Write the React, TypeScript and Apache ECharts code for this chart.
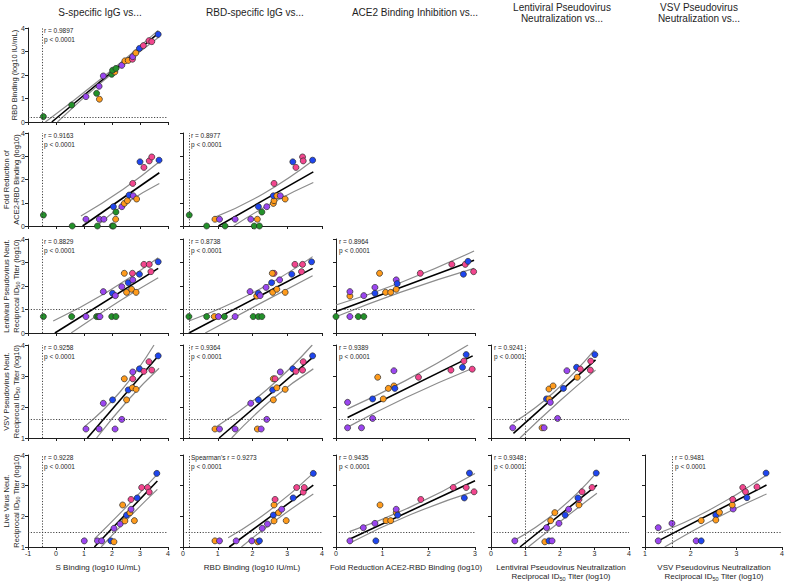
import { useEffect, useRef } from 'react';
import * as echarts from 'echarts';

const FONT = '"Liberation Sans", Arial, Helvetica, sans-serif';
const INK = '#1e1e1e';
// group index: 0 green, 1 purple, 2 orange, 3 pink, 4 blue
const GROUP_COLORS = ['#23912a', '#9b46f0', '#ff9b1c', '#f2468e', '#1f46ef'];

const headers = ['S-specific IgG vs...', 'RBD-specific IgG vs...', 'ACE2 Binding Inhibition vs...', 'Lentiviral Pseudovirus\nNeutralization vs...', 'VSV Pseudovirus\nNeutralization vs...'];
const rowTitles = ['RBD Binding (log10 IU/mL)', 'Fold Reduction of\nACE2-RBD Binding (log10)', 'Lentiviral Pseudovirus Neut.\nReciprocal ID{sub|50} Titer (log10)', 'VSV Pseudovirus Neut.\nReciprocal ID{sub|50} Titer (log10)', 'Live Virus Neut.\nReciprocal ID{sub|50} Titer (log10)'];
const colTitles = ['S Binding (log10 IU/mL)', 'RBD Binding (log10 IU/mL)', 'Fold Reduction ACE2-RBD Binding (log10)', 'Lentiviral Pseudovirus Neutralization\nReciprocal ID{sub|50} Titer (log10)', 'VSV Pseudovirus Neutralization\nReciprocal ID{sub|50} Titer (log10)'];
const xRanges = [[-1, 4], [0, 4], [0, 3], [0, 4], [1, 4]];
const yRanges = [[0, 4], [0, 4], [0, 4], [1, 4], [1, 4]];
const colLOD = [-0.5, 0.17, null, 1.0, 1.6];
const rowLOD = [0.2, null, 1.0, 1.6, 1.48];

// points [x, y, group]
const s_rbd = [[-0.45,0.23,0],[0.56,0.72,0],[1.07,1.08,1],[1.45,1.22,0],[1.55,0.97,2],[1.54,1.52,1],[1.69,1.96,1],[1.99,2.03,0],[2.1,2.13,2],[2.02,2.2,0],[2.14,2.28,0],[2.35,2.41,1],[2.46,2.6,2],[2.58,2.62,2],[2.73,2.67,3],[2.74,2.78,1],[2.85,2.94,2],[2.98,3.13,4],[3.12,3.25,3],[3.32,3.46,3],[3.42,3.42,3],[3.65,3.73,4]];
const s_ace2 = [[-0.45,0.47,0],[0.58,0,0],[1.07,0.29,1],[1.48,0,0],[1.55,0.29,1],[1.71,0.29,1],[2.01,0,0],[2.05,0,0],[2.05,0.83,4],[2.14,0.6,0],[2.13,0.29,2],[2.35,0.83,1],[2.44,0.97,2],[2.55,1.09,2],[2.61,1.33,4],[2.76,1.3,1],[2.88,1.16,2],[2.74,1.83,3],[3.0,2.76,4],[3.14,2.52,3],[3.33,2.8,3],[3.42,2.97,3],[3.68,2.83,4]];
const rbd_ace2 = [[0.18,0.47,0],[0.68,0,0],[0.92,0.29,2],[1.05,0.29,1],[1.21,0,0],[1.5,0.29,1],[1.95,0.29,1],[2.14,0.29,2],[2.05,0,0],[2.2,0,0],[2.17,0.83,4],[2.27,0.6,0],[2.41,0.83,1],[2.6,0.97,2],[2.62,1.09,2],[2.6,1.3,4],[2.62,1.83,3],[2.7,1.3,2],[2.8,1.3,1],[2.94,1.16,2],[3.16,2.76,4],[3.25,2.52,3],[3.44,2.97,3],[3.46,2.8,3],[3.73,2.83,4]];
const s_lenti = [[-0.45,0.7,0],[0.56,0.7,0],[1.07,0.7,1],[1.45,0.7,0],[1.52,0.7,0],[1.57,0.7,1],[1.99,0.7,0],[2.14,0.7,0],[1.69,1.76,1],[2.02,1.69,4],[2.12,1.59,1],[2.35,1.97,1],[2.44,2.54,2],[2.52,1.73,2],[2.58,2.14,4],[2.7,1.86,2],[2.74,2.26,1],[2.73,2.54,3],[2.86,1.73,2],[2.98,2.5,4],[3.14,2.92,3],[3.33,2.92,3],[3.39,2.61,3],[3.65,3.03,4]];
const rbd_lenti = [[0.17,0.7,0],[0.68,0.7,0],[0.9,0.7,2],[1.02,0.7,1],[1.19,0.7,0],[1.5,0.7,1],[2.02,0.7,0],[2.17,0.7,0],[2.27,0.7,0],[1.93,1.76,1],[2.12,1.57,2],[2.17,1.69,4],[2.22,1.59,1],[2.39,1.94,1],[2.55,2.14,4],[2.62,2.54,3],[2.57,2.54,2],[2.58,1.73,2],[2.7,1.86,2],[2.78,2.26,1],[2.94,1.73,2],[3.13,2.5,4],[3.22,2.92,3],[3.41,2.61,3],[3.44,2.92,3],[3.7,3.03,4]];
const ace2_lenti = [[0,0.7,0],[0.3,1.57,2],[0.3,1.76,1],[0.3,0.7,1],[0.48,0.7,0],[0.6,1.59,1],[0.6,0.7,0],[0.84,1.94,1],[0.84,1.69,4],[0.94,2.54,2],[1.07,1.73,2],[1.18,1.73,2],[1.3,1.86,2],[1.3,2.26,1],[1.32,2.1,4],[1.82,2.54,3],[2.5,2.92,3],[2.79,2.92,3],[2.85,3.05,4],[2.75,2.5,4],[2.97,2.61,3]];
const s_vsv = [[1.07,1.29,1],[1.54,1.29,1],[1.69,2.12,1],[2.02,2.23,4],[2.11,1.29,1],[2.35,1.6,1],[2.52,2.23,2],[2.44,2.91,2],[2.58,2.55,4],[2.73,2.62,2],[2.86,2.57,2],[2.74,2.91,3],[2.74,3.13,1],[2.98,3.23,4],[3.14,3.15,3],[3.32,3.46,3],[3.42,3.19,3],[3.65,3.65,4]];
const rbd_vsv = [[0.92,1.29,2],[1.05,1.29,1],[1.5,1.29,1],[1.95,2.12,1],[2.14,1.29,2],[2.25,1.29,1],[2.17,2.23,4],[2.41,1.6,1],[2.6,2.23,2],[2.6,2.91,2],[2.65,2.91,3],[2.58,2.55,4],[2.7,2.62,2],[2.8,3.13,1],[2.94,2.57,2],[3.16,3.23,4],[3.25,3.15,3],[3.44,3.19,3],[3.46,3.46,3],[3.73,3.65,4]];
const ace2_vsv = [[0.25,2.15,1],[0.25,1.33,1],[0.55,1.33,1],[0.79,1.63,1],[0.79,2.26,4],[0.9,2.96,2],[1.02,2.26,2],[1.13,2.6,2],[1.25,2.68,2],[1.27,2.6,4],[1.25,3.17,1],[1.78,2.96,3],[2.48,3.19,3],[2.73,3.28,4],[2.76,3.48,3],[2.94,3.22,3],[2.81,3.69,4]];
const lenti_vsv = [[0.63,1.33,1],[1.48,1.33,2],[1.54,1.33,1],[1.68,2.58,2],[1.8,2.68,2],[1.61,2.26,4],[1.68,2.26,2],[1.72,2.15,1],[1.93,1.63,1],[2.1,2.6,4],[2.2,3.17,1],[2.48,3.28,4],[2.59,3.22,3],[2.5,2.96,2],[2.88,3.19,3],[2.89,3.48,3],[3.01,3.69,4]];
const s_live = [[1.01,1.2,1],[1.48,1.2,1],[1.63,1.2,1],[1.96,1.2,4],[2.07,1.17,2],[2.07,1.61,1],[2.29,1.75,1],[2.38,2.37,2],[2.46,1.85,2],[2.52,2.04,4],[2.64,2.12,2],[2.68,2.23,1],[2.68,2.55,3],[2.8,1.86,2],[2.9,2.6,4],[3.06,2.94,3],[3.27,2.94,3],[3.33,2.79,3],[3.6,3.4,4]];
const rbd_live = [[0.92,1.2,2],[1.05,1.2,1],[1.53,1.2,1],[1.98,1.2,1],[2.15,1.17,2],[2.2,1.2,4],[2.28,1.61,1],[2.43,1.75,1],[2.6,2.04,4],[2.62,1.85,2],[2.62,2.37,2],[2.65,2.55,3],[2.75,2.12,2],[2.84,2.23,1],[2.97,1.86,2],[3.17,2.6,4],[3.27,2.94,3],[3.46,2.79,3],[3.49,2.94,3],[3.75,3.4,4]];
const ace2_live = [[0.3,1.2,1],[0.59,1.63,1],[0.86,1.2,4],[0.84,1.77,1],[0.95,2.37,2],[1.08,1.86,2],[1.18,1.86,2],[1.3,2.12,2],[1.3,2.23,1],[1.33,2.04,4],[1.83,2.55,3],[2.53,2.94,3],[2.81,2.94,3],[2.77,2.6,4],[2.98,2.8,3],[2.88,3.41,4]];
const lenti_live = [[0.69,1.2,1],[1.56,1.17,2],[1.68,1.2,4],[1.77,1.2,1],[1.61,1.63,1],[1.73,1.86,2],[1.97,1.77,1],[1.85,2.12,2],[2.15,2.04,4],[2.25,2.23,1],[2.55,2.37,2],[2.55,2.55,3],[2.52,2.6,4],[2.64,2.8,3],[2.93,2.94,3],[3.05,3.41,4]];
const vsv_live = [[1.29,1.63,1],[1.29,1.2,1],[1.59,1.77,1],[2.12,1.2,1],[2.23,1.2,4],[2.23,1.86,2],[2.55,2.04,4],[2.55,1.88,2],[2.63,2.13,2],[2.93,2.24,1],[2.91,2.37,2],[2.92,2.55,3],[3.23,2.61,4],[3.14,2.94,3],[3.2,2.8,3],[3.45,2.96,3],[3.65,3.41,4]];

// regression line ends and 95% band points
const fits = [
  [[-0.15,0],[3.65,3.77]], [[0.95,0],[3.69,2.29]], [[1.02,0],[3.75,2.33]],
  [[-0.04,0],[3.65,2.75]], [[0.17,0],[3.73,2.75]], [[0,0.91],[2.98,3.1]],
  [[1.12,1],[3.68,3.68]], [[1.04,1],[3.75,3.62]], [[0.25,1.66],[2.95,3.65]], [[0.65,1.15],[3.03,3.52]],
  [[1.37,1],[3.62,3.15]], [[1.33,1],[3.75,3.02]], [[0.29,1.25],[3.0,3.16]], [[0.84,1],[3.07,3.02]], [[1.29,1.2],[3.66,3.02]],
];
const bandsUpper = [
  [[-0.38,0],[1.6,1.83],[3.65,3.9]], [[0.89,0.43],[2.4,1.58],[3.69,2.76]], [[0.89,0.36],[2.3,1.38],[3.75,2.83]],
  [[-0.1,0.51],[1.8,1.72],[3.65,3.2]], [[0.17,0.51],[2.0,1.7],[3.73,3.25]], [[0,1.19],[1.4,2.15],[2.98,3.49]],
  [[1.0,1.35],[2.3,2.5],[3.5,4.0]], [[0.97,1.37],[2.4,2.55],[3.72,4.0]], [[0.25,1.94],[1.5,2.85],[2.85,4.0]], [[0.65,1.49],[1.8,2.45],[3.0,3.84]],
  [[1.37,1.26],[2.4,2.2],[3.6,3.35]], [[1.3,1.3],[2.5,2.2],[3.75,3.41]], [[0.29,1.5],[1.6,2.3],[3.0,3.4]], [[0.65,1.2],[1.9,2.15],[3.05,3.41]], [[1.29,1.45],[2.4,2.2],[3.66,3.35]],
];
const bandsLower = [
  [[0.05,0],[1.7,1.76],[3.68,3.62]], [[1.45,0],[2.5,0.98],[3.69,1.83]], [[1.46,0],[2.6,1.02],[3.75,1.87]],
  [[0.54,0],[2.3,1.38],[3.65,2.35]], [[0.64,0],[2.4,1.4],[3.73,2.44]], [[0,0.69],[1.4,1.74],[2.98,2.75]],
  [[1.45,1],[2.6,2.25],[3.68,3.25]], [[1.4,1],[2.6,2.28],[3.75,3.23]], [[0.25,1.35],[1.5,2.3],[2.95,3.25]], [[0.84,1],[2.0,2.2],[3.03,3.19]],
  [[1.61,1],[2.7,2.05],[3.62,2.88]], [[1.68,1],[2.7,1.9],[3.75,2.73]], [[0.29,1.12],[1.6,2.05],[3.0,2.82]], [[1.08,1],[2.2,2.0],[3.07,2.75]], [[1.43,1],[2.6,1.97],[3.66,2.73]],
];
const statLabels = [
  'r = 0.9897', 'r = 0.9163', 'r = 0.8977',
  'r = 0.8829', 'r = 0.8738', 'r = 0.8964',
  'r = 0.9258', 'r = 0.9364', 'r = 0.9389', 'r = 0.9241',
  'r = 0.9228', "Spearman's r = 0.9273", 'r = 0.9435', 'r = 0.9348', 'r = 0.9481',
];
const panelPoints = [s_rbd, s_ace2, rbd_ace2, s_lenti, rbd_lenti, ace2_lenti, s_vsv, rbd_vsv, ace2_vsv, lenti_vsv, s_live, rbd_live, ace2_live, lenti_live, vsv_live];

// layout (pixels)
const COL_LEFT = [28, 183, 336, 491, 645];
const COL_W = [140, 139, 139, 138, 139];
const ROW_TOP = [28, 133, 239, 345, 455];
const ROW_H = [94, 93, 94, 93, 92];
const HEADER_X = [100, 255, 415, 562, 699];
const COLTITLE_X = [98, 252, 406, 561, 714];
const STAT_X = [44, 191, 339, 494, 675];

const SUB_RICH = { sub: { fontSize: 5.5, lineHeight: 6, verticalAlign: 'bottom', fontFamily: FONT, fill: INK } };

function buildOption() {
  const grid: any[] = [];
  const xAxis: any[] = [];
  const yAxis: any[] = [];
  const series: any[] = [];
  const graphic: any[] = [];
  let i = 0;
  for (let r = 0; r < 5; r++) {
    for (let c = 0; c <= r; c++) {
      grid.push({ left: COL_LEFT[c], top: ROW_TOP[r], width: COL_W[c], height: ROW_H[r] });
      const axisCommon = {
        gridIndex: i, type: 'value', interval: 1,
        axisLine: { show: true, onZero: false, lineStyle: { color: INK, width: 1 } },
        axisTick: { show: true, length: 3, lineStyle: { color: INK, width: 1 } },
        splitLine: { show: false },
      };
      xAxis.push({ ...axisCommon, min: xRanges[c][0], max: xRanges[c][1],
        axisLabel: { show: r === 4, fontSize: 7, color: INK, fontFamily: FONT, margin: 3 } });
      yAxis.push({ ...axisCommon, min: yRanges[r][0], max: yRanges[r][1],
        axisLabel: { show: c === 0, fontSize: 7, color: INK, fontFamily: FONT, margin: 3 } });
      const marks: any[] = [];
      if (colLOD[c] !== null) marks.push({ xAxis: colLOD[c] });
      if (rowLOD[r] !== null) marks.push({ yAxis: rowLOD[r] });
      series.push({
        type: 'line', xAxisIndex: i, yAxisIndex: i, data: bandsLower[i], smooth: 0.5, symbol: 'none',
        lineStyle: { color: '#8c8c8c', width: 1.2 }, z: 2, silent: true,
        markLine: marks.length ? {
          silent: true, symbol: ['none', 'none'], label: { show: false },
          lineStyle: { type: [1.2, 1.6], color: '#333', width: 0.9 }, data: marks,
        } : undefined,
      });
      series.push({
        type: 'line', xAxisIndex: i, yAxisIndex: i, data: bandsUpper[i], smooth: 0.5, symbol: 'none',
        lineStyle: { color: '#8c8c8c', width: 1.2 }, z: 2, silent: true,
      });
      series.push({
        type: 'line', xAxisIndex: i, yAxisIndex: i, data: fits[i], symbol: 'none',
        lineStyle: { color: '#000', width: 1.6 }, z: 3, silent: true,
      });
      series.push({
        type: 'scatter', xAxisIndex: i, yAxisIndex: i, symbolSize: 6, z: 4,
        data: panelPoints[i].map((p) => ({ value: [p[0], p[1]], itemStyle: { color: GROUP_COLORS[p[2]] } })),
        itemStyle: { borderColor: '#2a2a2a', borderWidth: 0.7, opacity: 1 },
      });
      graphic.push({
        type: 'text', x: STAT_X[c], y: ROW_TOP[r] - 1.5, z: 10,
        style: { text: statLabels[i] + '\np < 0.0001', fontSize: 6.5, lineHeight: 8.5, fontFamily: FONT, fill: INK, align: 'left', verticalAlign: 'top' },
      });
      i++;
    }
  }
  headers.forEach((h, c) => {
    graphic.push({ type: 'text', x: HEADER_X[c], y: h.includes('\n') ? 12.8 : 12, style: { text: h, fontSize: 10, lineHeight: 11, fontFamily: FONT, fill: INK, align: 'center', verticalAlign: 'middle' } });
  });
  rowTitles.forEach((t, r) => {
    const two = t.includes('\n');
    graphic.push({ type: 'text', x: two ? 11 : 14, y: ROW_TOP[r] + ROW_H[r] / 2, rotation: Math.PI / 2,
      style: { text: t, fontSize: 7.5, lineHeight: 10, fontFamily: FONT, fill: INK, align: 'center', verticalAlign: 'middle', rich: SUB_RICH } });
  });
  colTitles.forEach((t, c) => {
    const two = t.includes('\n');
    graphic.push({ type: 'text', x: COLTITLE_X[c], y: two ? 572 : 567.5,
      style: { text: t, fontSize: 8, lineHeight: 9.5, fontFamily: FONT, fill: INK, align: 'center', verticalAlign: 'middle', rich: SUB_RICH } });
  });
  return { animation: false, backgroundColor: '#fff', grid, xAxis, yAxis, series, graphic };
}

export default function App() {
  const ref = useRef<HTMLDivElement>(null);
  useEffect(() => {
    document.body.style.margin = '0';
    if (!ref.current) return;
    const chart = echarts.init(ref.current, undefined, { renderer: 'svg' });
    chart.setOption(buildOption() as any);
    return () => chart.dispose();
  }, []);
  return <div ref={ref} style={{ width: 787, height: 583 }} />;
}
